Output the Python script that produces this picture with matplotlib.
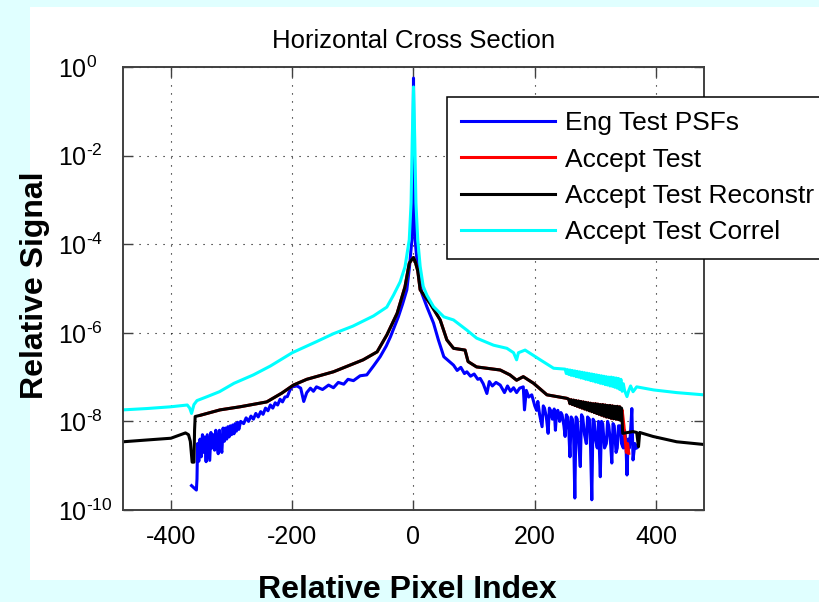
import numpy as np
import matplotlib
matplotlib.use('Agg')
import matplotlib.pyplot as plt
from matplotlib.ticker import NullLocator

plt.rcParams['font.family'] = ['Liberation Sans', 'DejaVu Sans']
plt.rcParams['mathtext.fontset'] = 'custom'
plt.rcParams['mathtext.rm'] = 'Liberation Sans'
plt.rcParams['mathtext.it'] = 'Liberation Sans:italic'
plt.rcParams['mathtext.bf'] = 'Liberation Sans:bold'

# horizontal cuts through the PSF, signal given as log10 of relative level
eng_x = [-366, -362, -358, -357, -356, -354, -352, -350, -348, -346, -344, -342,
         -340, -338, -336, -334, -332, -330, -328, -326, -324, -322, -320, -318,
         -316, -314, -312, -310, -308, -306, -304, -302, -300, -298, -296, -294,
         -292, -290, -288, -285, -280, -276, -272, -268, -264, -260, -256, -252,
         -248, -244, -240, -236, -232, -228, -224, -220, -216, -212, -208, -204,
         -200, -192, -186, -181, -176, -170, -165, -160, -150, -140, -132, -124,
         -115, -108, -99, -88, -77, -66, -55, -45, -38, -25, -18, -11, -6.6,
         -2.7, -1, 0, 1, 2.7, 6.6, 13.8, 22, 33, 41, 50, 66, 72, 78, 84, 88, 94,
         100, 106, 110, 115, 121, 125, 130, 136, 143, 150, 155, 160, 165, 170,
         175, 181, 183, 186, 190, 195, 200, 203, 205, 208, 212, 214, 216, 219,
         222, 224, 226, 229, 232, 234, 236, 238, 241, 243, 245, 248, 250, 252,
         254, 256, 258, 260, 262, 264, 266, 268, 270, 272, 275, 277, 279, 282,
         285, 287, 290, 292, 294, 296, 298, 300, 303, 305, 308, 310, 312, 315,
         318, 320, 322, 325, 327, 329, 331, 334, 336, 338, 341, 343, 346, 348,
         350, 352, 354, 356, 358, 360, 362, 365, 368]
eng_log = [-9.45, -9.50, -9.55, -9.30, -8.50, -8.90, -8.40, -8.80, -8.30, -8.70,
           -8.35, -8.91, -8.30, -8.60, -8.88, -8.25, -8.60, -8.30, -8.65, -8.20,
           -8.50, -8.73, -8.20, -8.55, -8.70, -8.15, -8.45, -8.15, -8.40, -8.12,
           -8.35, -8.10, -8.30, -8.08, -8.28, -8.05, -8.22, -8.02, -8.18, -8.00,
           -8.05, -7.92, -8.00, -7.88, -7.95, -7.82, -7.90, -7.78, -7.84, -7.70,
           -7.76, -7.63, -7.70, -7.58, -7.63, -7.50, -7.56, -7.45, -7.44, -7.30,
           -7.22, -7.20, -7.25, -7.55, -7.35, -7.25, -7.32, -7.22, -7.28, -7.18,
           -7.24, -7.12, -7.16, -7.05, -7.08, -6.97, -6.95, -6.75, -6.54, -6.30,
           -6.09, -5.64, -5.35, -5.03, -4.51, -3.90, -2.90, -0.25, -2.90, -3.90,
           -4.51, -5.11, -5.41, -5.78, -6.16, -6.54, -6.73, -6.85, -6.78, -6.92,
           -6.88, -6.98, -6.93, -7.05, -7.03, -7.15, -7.37, -7.10, -7.20, -7.12,
           -7.18, -7.35, -7.20, -7.32, -7.24, -7.35, -7.25, -7.22, -7.74, -7.30,
           -7.45, -7.40, -7.65, -7.75, -7.55, -7.85, -8.12, -7.65, -7.70, -7.90,
           -8.27, -7.70, -7.75, -7.95, -7.72, -8.20, -7.78, -7.75, -8.00, -7.80,
           -7.85, -8.10, -8.34, -7.85, -7.90, -8.20, -8.80, -7.90, -7.95, -8.30,
           -9.73, -7.90, -7.95, -8.40, -9.02, -7.85, -7.90, -8.30, -8.50, -7.90,
           -7.95, -8.60, -9.77, -7.95, -8.00, -8.40, -8.60, -8.00, -9.25, -8.00,
           -8.05, -8.60, -8.50, -8.00, -8.10, -8.50, -8.94, -8.05, -8.10, -8.70,
           -8.60, -8.10, -8.10, -8.50, -8.60, -8.20, -8.40, -9.21, -8.40, -8.60,
           -8.20, -7.71, -8.87, -8.50, -8.60]

rec_x = [-479, -440, -400, -376, -371, -368, -365, -362, -361, -360, -351, -319,
         -286, -242, -217, -198, -176, -132, -83, -60, -44, -27, -14, -7, -3, 0,
         3, 7, 11, 27, 44, 55, 66, 85, 90, 104, 143, 159, 170, 181, 198, 220,
         253, 256, 258, 260, 262, 264, 266, 268, 270, 272, 274, 276, 278, 280,
         282, 284, 286, 288, 290, 292, 294, 296, 298, 300, 302, 304, 306, 308,
         310, 312, 314, 316, 318, 320, 322, 324, 326, 328, 330, 332, 334, 336,
         338, 340, 342, 343, 345, 362, 368, 371, 373, 395, 434, 478]
rec_log = [-8.46, -8.42, -8.38, -8.26, -8.30, -8.45, -8.92, -8.92, -8.20, -7.89,
           -7.86, -7.74, -7.67, -7.56, -7.36, -7.18, -7.05, -6.88, -6.61, -6.43,
           -6.05, -5.56, -4.96, -4.43, -4.35, -4.30, -4.40, -4.60, -5.03, -5.33,
           -5.71, -6.16, -6.35, -6.39, -6.65, -6.77, -6.84, -6.95, -7.07, -6.99,
           -7.14, -7.40, -7.48, -7.50, -7.60, -7.51, -7.62, -7.52, -7.64, -7.53,
           -7.66, -7.54, -7.68, -7.55, -7.70, -7.56, -7.72, -7.57, -7.74, -7.58,
           -7.76, -7.59, -7.78, -7.60, -7.80, -7.60, -7.82, -7.61, -7.84, -7.62,
           -7.86, -7.62, -7.88, -7.63, -7.90, -7.64, -7.91, -7.64, -7.93, -7.65,
           -7.94, -7.66, -7.95, -7.66, -7.96, -7.67, -7.97, -7.70, -8.27, -8.23,
           -8.25, -8.57, -8.25, -8.34, -8.46, -8.52]

# accept test follows the reconstruction inside +/-350, then falls off
acc_tail_x = [344, 347, 349, 351, 353, 355]
acc_tail_log = [-7.74, -8.10, -8.40, -8.70, -8.50, -8.72]

cor_x = [-479, -440, -400, -380, -373, -369, -366, -362, -357, -340, -320,
         -296, -264, -236, -200, -160, -132, -100, -66, -44, -33, -22, -14, -7,
         -4, -2, 0, 2, 4, 7, 11, 16, 22, 33, 50, 66, 88, 104, 132, 154, 165,
         170, 173, 184, 209, 231, 250, 252, 254, 256, 258, 260, 262, 264, 266,
         268, 270, 272, 274, 276, 278, 280, 282, 284, 286, 288, 290, 292, 294,
         296, 298, 300, 302, 304, 306, 308, 310, 312, 314, 316, 318, 320, 322,
         324, 326, 328, 330, 332, 334, 336, 338, 340, 342, 344, 346, 348, 352,
         355, 358, 362, 368, 396, 434, 478]
cor_log = [-7.74, -7.71, -7.67, -7.64, -7.63, -7.70, -7.82, -7.62, -7.53, -7.44,
           -7.33, -7.14, -6.95, -6.75, -6.45, -6.20, -6.02, -5.85, -5.62, -5.42,
           -5.15, -4.85, -4.51, -3.90, -3.07, -1.60, -0.45, -1.60, -3.07, -3.90,
           -4.50, -4.95, -5.15, -5.41, -5.64, -5.71, -5.94, -6.12, -6.28, -6.35,
           -6.45, -6.61, -6.45, -6.39, -6.61, -6.80, -6.82, -6.92, -6.83, -6.94,
           -6.84, -6.96, -6.85, -6.97, -6.86, -6.99, -6.87, -7.00, -6.88, -7.02,
           -6.89, -7.03, -6.90, -7.05, -6.91, -7.06, -6.92, -7.08, -6.93, -7.09,
           -6.94, -7.11, -6.95, -7.12, -6.96, -7.14, -6.97, -7.15, -6.98, -7.17,
           -6.99, -7.18, -7.00, -7.20, -7.00, -7.21, -7.01, -7.23, -7.02, -7.25,
           -7.03, -7.28, -7.05, -7.32, -7.15, -7.30, -7.44, -7.30, -7.20, -7.33,
           -7.22, -7.29, -7.35, -7.40]

decades = [-10, -8, -6, -4, -2, 0]

rec_x = np.array(rec_x)
rec_log = np.array(rec_log)
inner = (rec_x >= -355) & (rec_x <= 342)
acc_x = np.concatenate([rec_x[inner], acc_tail_x])
acc_log = np.concatenate([rec_log[inner], acc_tail_log])

labels = ['Eng Test PSFs', 'Accept Test', 'Accept Test Reconstr', 'Accept Test Correl']
colors = ['#0000ff', '#ff0000', '#000000', '#00ffff']

fig = plt.figure(figsize=(8.19, 6.02), dpi=100, facecolor='#e0ffff')
fig.patches.append(plt.Rectangle((30 / 819, 22 / 602), 789 / 819, 573 / 602,
                                 transform=fig.transFigure, facecolor='white',
                                 edgecolor='none', zorder=-5))
ax = fig.add_axes([123 / 819, 92 / 602, 581 / 819, 443 / 602])

series = [(eng_x, eng_log), (acc_x, acc_log), (rec_x, rec_log), (cor_x, cor_log)]
for (xs, ls), lab, c in zip(series, labels, colors):
    ax.semilogy(xs, 10.0 ** np.asarray(ls), color=c, lw=2.2, label=lab)

ax.set_xlim(-479, 479)
ax.set_ylim(1e-10, 1)
ax.set_xticks([-400, -200, 0, 200, 400])
ax.set_xticklabels(['-400', '-200', '0', '200', '400'])
ax.set_yticks([10.0 ** d for d in decades])
ylabels = []
for d in decades:
    if d < 0:
        ylabels.append(r'$\mathregular{10^{\text{-}%d}}$' % -d)
    else:
        ylabels.append(r'$\mathregular{10^{%d}}$' % d)
ax.set_yticklabels(ylabels)
ax.yaxis.set_minor_locator(NullLocator())
ax.grid(True, linestyle=(0, (1, 6.2)), color='k', lw=0.8)

for s in ax.spines.values():
    s.set_color('#404040')
    s.set_linewidth(1.4)
ax.tick_params(direction='in', length=7, width=1, color='#404040',
               top=True, right=True, labelsize=18)
ax.tick_params(axis='x', pad=10.5)
ax.tick_params(axis='y', pad=46.5)
plt.setp(ax.get_yticklabels(), ha='left')

ax.set_title('Horizontal Cross Section', fontsize=18.5, pad=13.7)
ax.set_xlabel('Relative Pixel Index', fontsize=23, fontweight='bold', va='baseline')
ax.xaxis.set_label_coords(0.4897, -0.198)
ax.set_ylabel('Relative Signal', fontsize=23, fontweight='bold', va='center')
ax.yaxis.set_label_coords(-0.152, 0.508)

leg = ax.legend(loc='upper left', bbox_to_anchor=(0.557, 0.933), borderaxespad=0,
                fontsize=19, handlelength=3.56, handletextpad=0.38, borderpad=0.55,
                labelspacing=0.47, fancybox=False, framealpha=1)
leg.get_frame().set_edgecolor('k')
leg.get_frame().set_linewidth(1.1)

fig.savefig('out.png', dpi=100, facecolor=fig.get_facecolor())
